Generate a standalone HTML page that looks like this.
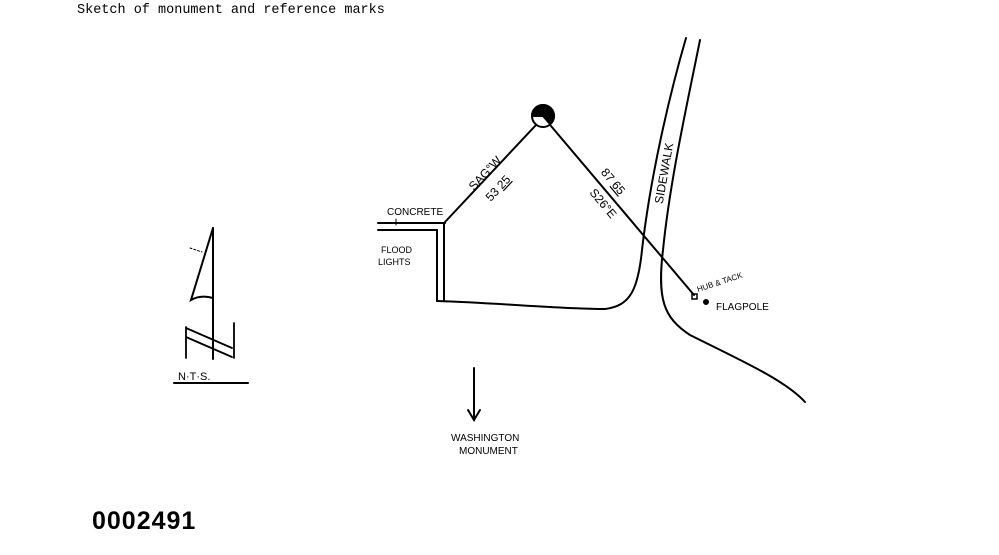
<!DOCTYPE html>
<html><head><style>
body{margin:0;background:#fff;width:999px;height:555px;overflow:hidden}
svg{display:block}
text{font-family:"Liberation Sans",sans-serif;fill:#000}
</style></head><body>
<svg width="999" height="555" viewBox="0 0 999 555" xmlns="http://www.w3.org/2000/svg">
<text x="77" y="13" style="font-family:'Liberation Mono',monospace;font-size:13.5px">Sketch of monument and reference marks</text>
<g stroke="#000" stroke-width="2" fill="none" stroke-linecap="round">
<!-- monument -->
<circle cx="543" cy="116" r="11" fill="#fff"/>
<path d="M543 116 L543 105 A11 11 0 0 1 554 116 A11 11 0 0 1 550 124 Z" fill="#000"/>
<path d="M543 116 L532 116 A11 11 0 0 1 543 105 Z" fill="#000"/>
<!-- lines -->
<line x1="536" y1="125" x2="445" y2="222"/>
<line x1="551" y1="126" x2="694" y2="295"/>
<rect x="692" y="294" width="5" height="5" stroke-width="1.5"/>
<circle cx="706" cy="302" r="2" fill="#000"/>
<!-- concrete -->
<line x1="378" y1="223" x2="445" y2="223"/>
<line x1="378" y1="230" x2="437" y2="230"/>
<line x1="437" y1="230" x2="437" y2="301"/>
<line x1="444" y1="223" x2="444" y2="301"/>
<line x1="396" y1="219" x2="396" y2="225" stroke-width="1"/>
<!-- ground -->
<path d="M437 301 C500 303 560 309 605 309 C630 306 638 290 642 250 C650 180 668 100 686 38"/>
<path d="M700 40 C688 100 670 180 663 250 C657 300 664 318 690 335 C740 360 785 380 805 402"/>
<!-- arrow -->
<line x1="474" y1="368" x2="474" y2="420"/>
<path d="M468 410 L474 420 L480 410"/>
<!-- north arrow -->
<line x1="213" y1="228" x2="213" y2="359"/>
<path d="M213 228 L191 300 C198 296 206 296 213 298"/>
<path d="M186 327 L186 358 M234 323 L234 358 M186 328 L232 348 M186 337 L232 357" stroke-width="1.8"/>
<line x1="174" y1="383" x2="248" y2="383"/>
<line x1="190" y1="248" x2="202" y2="252" stroke-width="1" stroke-dasharray="2 2"/>
</g>
<text x="178" y="380" style="font-size:11px">N·T·S.</text>
<g style="font-size:10px">
<text x="387" y="215">CONCRETE</text>
<text x="381" y="253" style="font-size:9px">FLOOD</text>
<text x="378" y="265" style="font-size:9px">LIGHTS</text>
<text x="698" y="292" transform="rotate(-18 698 292)" style="font-size:8px">HUB &amp; TACK</text>
<text x="716" y="310">FLAGPOLE</text>
<text x="451" y="441">WASHINGTON</text>
<text x="459" y="454">MONUMENT</text>
</g>
<g style="font-size:12px">
<text transform="translate(488,176) rotate(-47)" text-anchor="middle">SAG°W</text>
<text transform="translate(501,191) rotate(-47)" text-anchor="middle">53 <tspan text-decoration="underline">25</tspan></text>
<text transform="translate(610,184) rotate(50)" text-anchor="middle">87 <tspan text-decoration="underline">65</tspan></text>
<text transform="translate(600,206) rotate(50)" text-anchor="middle">S26°E</text>
<text transform="translate(668,174) rotate(-80)" text-anchor="middle">SIDEWALK</text>
</g>
<text x="92" y="529" style="font-weight:bold;font-size:25px;letter-spacing:1px">0002491</text>
</svg>
</body></html>
